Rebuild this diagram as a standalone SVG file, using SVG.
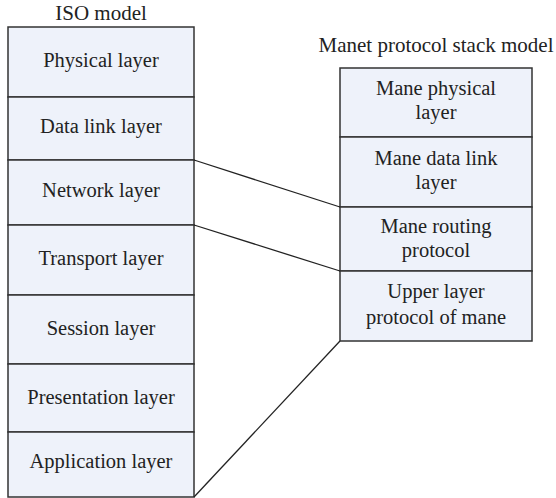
<svg xmlns="http://www.w3.org/2000/svg" width="556" height="498" viewBox="0 0 556 498">
  <style>
    .cell { fill: #eef2fa; stroke: #333333; stroke-width: 1.5; }
    text { font-family: "Liberation Serif", "Times New Roman", serif; fill: #222222; text-anchor: middle; }
    .lbl { font-size: 20.5px; }
    .title { font-size: 21px; }
    .link { stroke: #222222; stroke-width: 1.3; fill: none; }
  </style>
  <rect width="556" height="498" fill="#ffffff"/>

  <!-- ISO reference model -->
  <text class="title" x="101" y="20">ISO model</text>
  <g id="iso-physical">
    <rect class="cell" x="8" y="27" width="186" height="70"/>
    <text class="lbl" x="101" y="67">Physical layer</text>
  </g>
  <g id="iso-datalink">
    <rect class="cell" x="8" y="97" width="186" height="63"/>
    <text class="lbl" x="101" y="133">Data link layer</text>
  </g>
  <g id="iso-network">
    <rect class="cell" x="8" y="160" width="186" height="65"/>
    <text class="lbl" x="101" y="197">Network layer</text>
  </g>
  <g id="iso-transport">
    <rect class="cell" x="8" y="225" width="186" height="70"/>
    <text class="lbl" x="101" y="265">Transport layer</text>
  </g>
  <g id="iso-session">
    <rect class="cell" x="8" y="295" width="186" height="69"/>
    <text class="lbl" x="101" y="335">Session layer</text>
  </g>
  <g id="iso-presentation">
    <rect class="cell" x="8" y="364" width="186" height="68"/>
    <text class="lbl" x="101" y="404">Presentation layer</text>
  </g>
  <g id="iso-application">
    <rect class="cell" x="8" y="432" width="186" height="65"/>
    <text class="lbl" x="101" y="468">Application layer</text>
  </g>

  <!-- MANET protocol stack -->
  <text class="title" x="436" y="52">Manet protocol stack model</text>
  <g id="manet-physical">
    <rect class="cell" x="340" y="68" width="192" height="69"/>
    <text class="lbl" x="436" y="95">Mane physical</text>
    <text class="lbl" x="436" y="119">layer</text>
  </g>
  <g id="manet-datalink">
    <rect class="cell" x="340" y="137" width="192" height="70"/>
    <text class="lbl" x="436" y="165">Mane data link</text>
    <text class="lbl" x="436" y="189">layer</text>
  </g>
  <g id="manet-routing">
    <rect class="cell" x="340" y="207" width="192" height="64"/>
    <text class="lbl" x="436" y="233">Mane routing</text>
    <text class="lbl" x="436" y="257">protocol</text>
  </g>
  <g id="manet-upper">
    <rect class="cell" x="340" y="271" width="192" height="70"/>
    <text class="lbl" x="436" y="298">Upper layer</text>
    <text class="lbl" x="436" y="324">protocol of mane</text>
  </g>

  <!-- correspondence lines between the two stacks -->
  <g id="connectors">
    <line class="link" x1="194" y1="160" x2="340" y2="207"/>
    <line class="link" x1="194" y1="225" x2="340" y2="271"/>
    <line class="link" x1="194" y1="497" x2="340" y2="341"/>
  </g>
</svg>
